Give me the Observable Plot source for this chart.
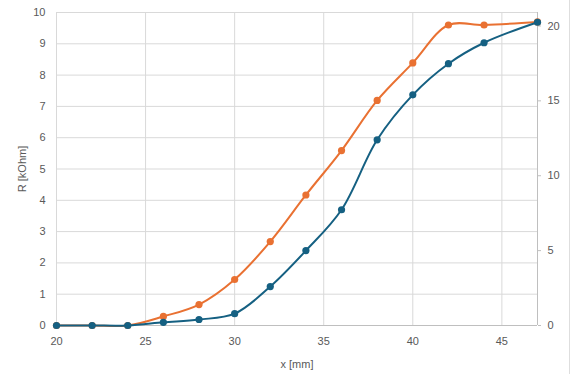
<!DOCTYPE html>
<html>
<head>
<meta charset="utf-8">
<script src="https://cdn.jsdelivr.net/npm/d3@7"></script>
<script src="https://cdn.jsdelivr.net/npm/@observablehq/plot@0.6"></script>
<style>
  html, body { margin: 0; padding: 0; background: #fff; }
  #wrap { position: relative; width: 571px; height: 374px; overflow: hidden; }
  #edge { position: absolute; left: 569px; top: 0; width: 0; height: 374px; border-left: 1px solid #dedede; }
</style>
</head>
<body>
<div id="wrap"><div id="edge"></div></div>
<script>
// Data
const xValues = [20, 22, 24, 26, 28, 30, 32, 34, 36, 38, 40, 42, 44, 47];
const orangeLeft = [0, 0, 0, 0.29, 0.67, 1.47, 2.68, 4.17, 5.59, 7.19, 8.39, 9.6, 9.6, 9.7];   // left axis, R [kOhm]
const blueRight  = [0, 0, 0, 0.21, 0.4, 0.79, 2.6, 5.0, 7.73, 12.4, 15.4, 17.48, 18.88, 20.25]; // right axis
const xTicks = [20, 25, 30, 35, 40, 45];
const leftTicks = [0, 1, 2, 3, 4, 5, 6, 7, 8, 9, 10];
const rightTicks = [0, 5, 10, 15, 20];
const leftMax = 10;
const rightMax = 20.9;

const k = leftMax / rightMax; // secondary axis -> primary units
const orange = xValues.map((x, i) => ({x, y: orangeLeft[i]}));
const blue = xValues.map((x, i) => ({x, y: blueRight[i] * k}));

const orangeColor = "#E97132";
const blueColor = "#156082";
const gridColor = "#d9d9d9";
const axisColor = "#bfbfbf";
const textColor = "#595959";
const curve = d3.curveCatmullRom.alpha(0.5);

const chart = Plot.plot({
  width: 571,
  height: 374,
  marginLeft: 56,
  marginRight: 34,
  marginTop: 12,
  marginBottom: 49,
  style: {fontFamily: "'Liberation Sans', Arial, sans-serif", fontSize: "11px", color: textColor, background: "transparent"},
  x: {domain: [20, 47]},
  y: {domain: [0, leftMax]},
  marks: [
    Plot.ruleY(leftTicks, {stroke: gridColor, strokeWidth: 1}),
    Plot.ruleX(xTicks.slice(1), {stroke: gridColor, strokeWidth: 1}),
    Plot.ruleX([20], {stroke: gridColor, strokeWidth: 1}),
    Plot.ruleY([0], {stroke: axisColor, strokeWidth: 1}),
    Plot.ruleX([47], {stroke: axisColor, strokeWidth: 1}),
    Plot.axisX(xTicks, {tickSize: 0, tickPadding: 12, label: "x [mm]", labelAnchor: "center", labelArrow: "none", labelOffset: 42, fill: textColor}),
    Plot.axisY(leftTicks, {anchor: "left", tickSize: 0, tickPadding: 11, label: "R [kOhm]", labelAnchor: "center", labelArrow: "none", labelOffset: 38, fill: textColor}),
    Plot.axisY(rightTicks.map(t => t * k), {anchor: "right", tickSize: 3, tickPadding: 7, stroke: axisColor, fill: textColor, tickFormat: d => String(Math.round(d / k)), label: null}),
    Plot.line(orange, {x: "x", y: "y", stroke: orangeColor, strokeWidth: 2, curve}),
    Plot.dot(orange, {x: "x", y: "y", r: 3.6, fill: orangeColor, stroke: "none"}),
    Plot.line(blue, {x: "x", y: "y", stroke: blueColor, strokeWidth: 2, curve}),
    Plot.dot(blue, {x: "x", y: "y", r: 3.6, fill: blueColor, stroke: "none"})
  ]
});
document.getElementById("wrap").appendChild(chart);
</script>
</body>
</html>
